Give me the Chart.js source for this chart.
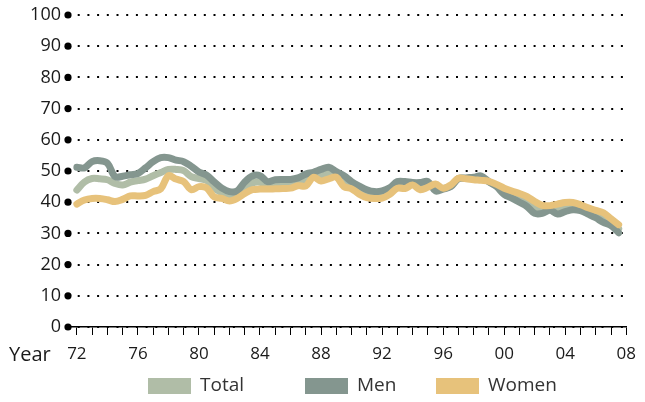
<!DOCTYPE html>
<html>
<head>
<meta charset="utf-8">
<script src="https://cdn.jsdelivr.net/npm/chart.js@4.4.1/dist/chart.umd.min.js"></script>
<style>
html,body{margin:0;padding:0;background:#fff;}
#wrap{width:645px;height:402px;position:relative;}
</style>
</head>
<body>
<div id="wrap"><canvas id="c"></canvas></div>
<script>
const years = [1972,1972.5,1973,1973.5,1974,1974.5,1975,1975.5,1976,1976.5,1977,1977.5,1978,1978.5,1979,1979.5,1980,1980.5,1981,1981.5,1982,1982.5,1983,1983.5,1984,1984.5,1985,1985.5,1986,1986.5,1987,1987.5,1988,1988.5,1989,1989.5,1990,1990.5,1991,1991.5,1992,1992.5,1993,1993.5,1994,1994.5,1995,1995.5,1996,1996.5,1997,1997.5,1998,1998.5,1999,1999.5,2000,2000.5,2001,2001.5,2002,2002.5,2003,2003.5,2004,2004.5,2005,2005.5,2006,2006.5,2007,2007.5];

const total = [43.9,46.5,47.6,47.5,47.2,46,45.5,46.4,46.9,47.4,48.5,49.5,50.5,50.5,50.1,48.2,47.6,47,44.5,43,42,42.5,44.8,46.2,46.4,45.4,45.8,45.9,46,46.6,47.2,48.8,48.7,49.3,48.9,46.8,45.5,43.9,42.8,42.3,42.5,43.5,45.5,45.5,45.9,45.1,45.7,44.7,44.4,45.2,47.6,47.6,47.6,47.7,46.6,45.3,43.5,42.4,41.4,40.2,38.3,37.7,38.1,37.8,38.4,38.7,38.2,37.2,36.2,35,33.6,31.5];

const men = [51.2,51,53,53.3,52.5,48.2,48.3,48.8,49.2,51,53,54.3,54.3,53.5,53,51.5,49.7,48.7,46.5,44.5,43.4,43.6,46.5,48.4,48.5,46.6,47.2,47.3,47.3,47.8,49,49.6,50.5,51.2,49.8,48.5,46.6,45.2,44,43.4,43.6,44.6,46.6,46.6,46.3,46.3,46.6,43.6,44.2,45,47.5,47.8,48,48.4,46.5,45,42.5,41.3,40,38.6,36.4,36.4,37.4,36.2,37,37.6,37.3,36.2,35,33.5,32.5,30.2];

const women = [39.4,40.7,41.2,41.2,40.8,40.2,40.9,42,42,42.2,43.4,44.3,48.5,47.4,46.6,44,45,44.6,41.7,41.2,40.4,41.2,42.8,44,44.2,44.2,44.3,44.4,44.5,45.3,45.2,48,46.8,47.5,48,45,44.3,42.6,41.5,41.2,41.3,42.5,44.5,44.4,45.5,44,44.8,45.8,44.5,45.5,47.7,47.5,47.2,47,46.7,45.7,44.5,43.6,42.8,41.8,40.2,39,38.9,39.4,39.9,39.9,39.2,38.2,37.4,36.6,34.7,32.8];

const seriesNames = ['Total','Men','Women'];
const yTickValues = [0,10,20,30,40,50,60,70,80,90,100];
const xTickYears = [1972,1973,1974,1975,1976,1977,1978,1979,1980,1981,1982,1983,1984,1985,1986,1987,1988,1989,1990,1991,1992,1993,1994,1995,1996,1997,1998,1999,2000,2001,2002,2003,2004,2005,2006,2007,2008];
const xLabelYears = [1972,1976,1980,1984,1988,1992,1996,2000,2004,2008];
const xAxisTitle = 'Year';

const colors = ['#b0bda7','#84968f','#e7c27b'];
const FONT = '"Open Sans", "Noto Sans", sans-serif';
const legendX = [148, 305, 436];

function pts(vals){ return vals.map((v,i)=>({x:years[i], y:v})); }

const decoPlugin = {
  id:'deco',
  afterDraw(chart){
    const ctx = chart.ctx, ys = chart.scales.y, xs = chart.scales.x;
    ctx.save();
    ctx.fillStyle = '#000';
    ys.ticks.forEach(t=>{
      const py = ys.getPixelForValue(t.value);
      ctx.beginPath();
      ctx.arc(chart.chartArea.left, py, 3.6, 0, Math.PI*2);
      ctx.fill();
    });
    ctx.font = '20px ' + FONT;
    ctx.fillStyle = '#1a1a1a';
    ctx.textBaseline = 'middle';
    ctx.textAlign = 'left';
    ctx.fillText(xAxisTitle, 9, xs.top + 28);
    // legend
    const ly = xs.bottom + 11;
    ctx.font = '19px ' + FONT;
    chart.data.datasets.forEach((d,i)=>{
      const x0 = legendX[i];
      ctx.fillStyle = d.backgroundColor;
      ctx.fillRect(x0, ly, 43, 16);
      ctx.fillStyle = '#333';
      ctx.fillText(d.label, x0 + 52, ly + 8);
    });
    ctx.restore();
  }
};

new Chart(document.getElementById('c'), {
  type:'line',
  data:{
    datasets:[
      {label:seriesNames[0], data:pts(total), borderColor:colors[0], backgroundColor:colors[0], order:3},
      {label:seriesNames[1], data:pts(men), borderColor:colors[1], backgroundColor:colors[1], order:2},
      {label:seriesNames[2], data:pts(women), borderColor:colors[2], backgroundColor:colors[2], order:1}
    ]
  },
  options:{
    responsive:true,
    maintainAspectRatio:false,
    animation:false,
    devicePixelRatio:1,
    layout:{padding:{top:15,right:9,left:0,bottom:35}},
    elements:{
      line:{borderWidth:7, tension:0.35, borderCapStyle:'round', borderJoinStyle:'round', fill:false},
      point:{radius:0, hoverRadius:0}
    },
    plugins:{
      legend:{display:false},
      tooltip:{enabled:false}
    },
    scales:{
      x:{
        type:'linear',
        min:1971.42, max:2008,
        afterBuildTicks(s){ s.ticks = xTickYears.map(v=>({value:v})); },
        afterFit(s){ s.height = 40; },
        ticks:{
          autoSkip:false, maxRotation:0, padding:9,
          font:{family:FONT, size:17}, color:'#1a1a1a',
          callback(v){ return xLabelYears.includes(v) ? String(v).slice(2) : ''; }
        },
        grid:{drawOnChartArea:false, drawTicks:true, tickLength:8, tickColor:'#000', tickWidth:1},
        border:{display:true, color:'#000', width:1.5}
      },
      y:{
        min:0, max:100,
        afterBuildTicks(s){ s.ticks = yTickValues.map(v=>({value:v})); },
        afterFit(s){ s.width = 68; s.paddingTop = 0; s.paddingBottom = 0; },
        ticks:{padding:7, font:{family:FONT, size:18}, color:'#1a1a1a'},
        grid:{drawTicks:false, color:'#000', lineWidth:2},
        border:{display:false, dash:[2,7.7]}
      }
    }
  },
  plugins:[decoPlugin]
});
</script>
</body>
</html>
